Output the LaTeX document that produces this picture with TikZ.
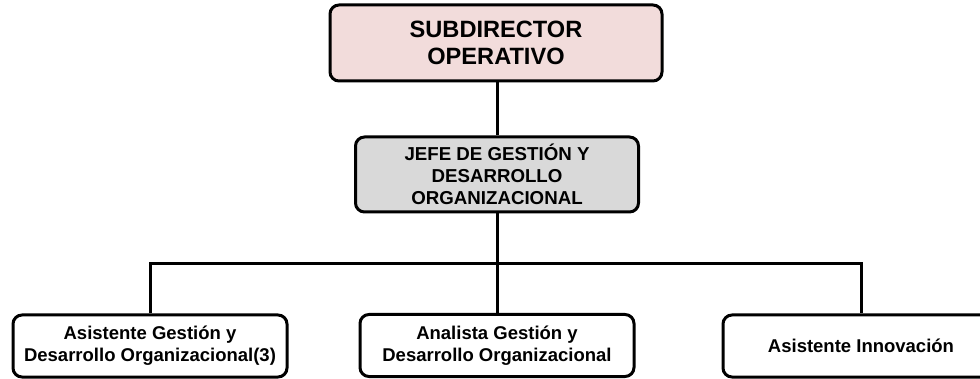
\documentclass[tikz,border=0pt]{standalone}
\usepackage{fontspec}
\setmainfont{Liberation Sans}
\usetikzlibrary{positioning}
\definecolor{rosado}{HTML}{F2DCDB}
\definecolor{grisclaro}{HTML}{D9D9D9}

\begin{document}
\begin{tikzpicture}[x=1pt,y=-1pt]
\tikzstyle{caja}=[draw=black,line width=3pt,rounded corners=9pt,inner sep=0pt,align=center]
\tikzstyle{cargo}=[caja,minimum width=274pt,minimum height=62pt,font=\fontsize{18.5}{22}\selectfont\bfseries]
\tikzstyle{linea}=[draw=black,line width=3pt]
\useasboundingbox (0,0) rectangle (980,379);
% jefaturas
\node [caja,fill=rosado,minimum width=332pt,minimum height=76pt,font=\fontsize{23.6}{27.5}\selectfont\bfseries] (sub) at (496,43) {SUBDIRECTOR\\OPERATIVO};
\node [caja,fill=grisclaro,minimum width=283pt,minimum height=75pt,font=\fontsize{18.7}{22}\selectfont\bfseries] (jefe) at (497,174.5) {JEFE DE GESTIÓN Y\\DESARROLLO\\ORGANIZACIONAL};
% cargos
\node [cargo] (asis) at (150,346) {Asistente Gestión y\\Desarrollo Organizacional(3)};
\node [cargo] (ana) at (497,345.5) {Analista Gestión y\\Desarrollo Organizacional};
\node [cargo,minimum width=276pt] (inno) at (861,346) {Asistente Innovación};
\coordinate (bus) at (497,264);
% conectores
\draw [linea] (sub.south -| jefe) -- (jefe);
\draw [linea] (jefe) -- (ana);
\draw [linea] (asis) |- (bus) -| (inno);
\end{tikzpicture}
\end{document}
